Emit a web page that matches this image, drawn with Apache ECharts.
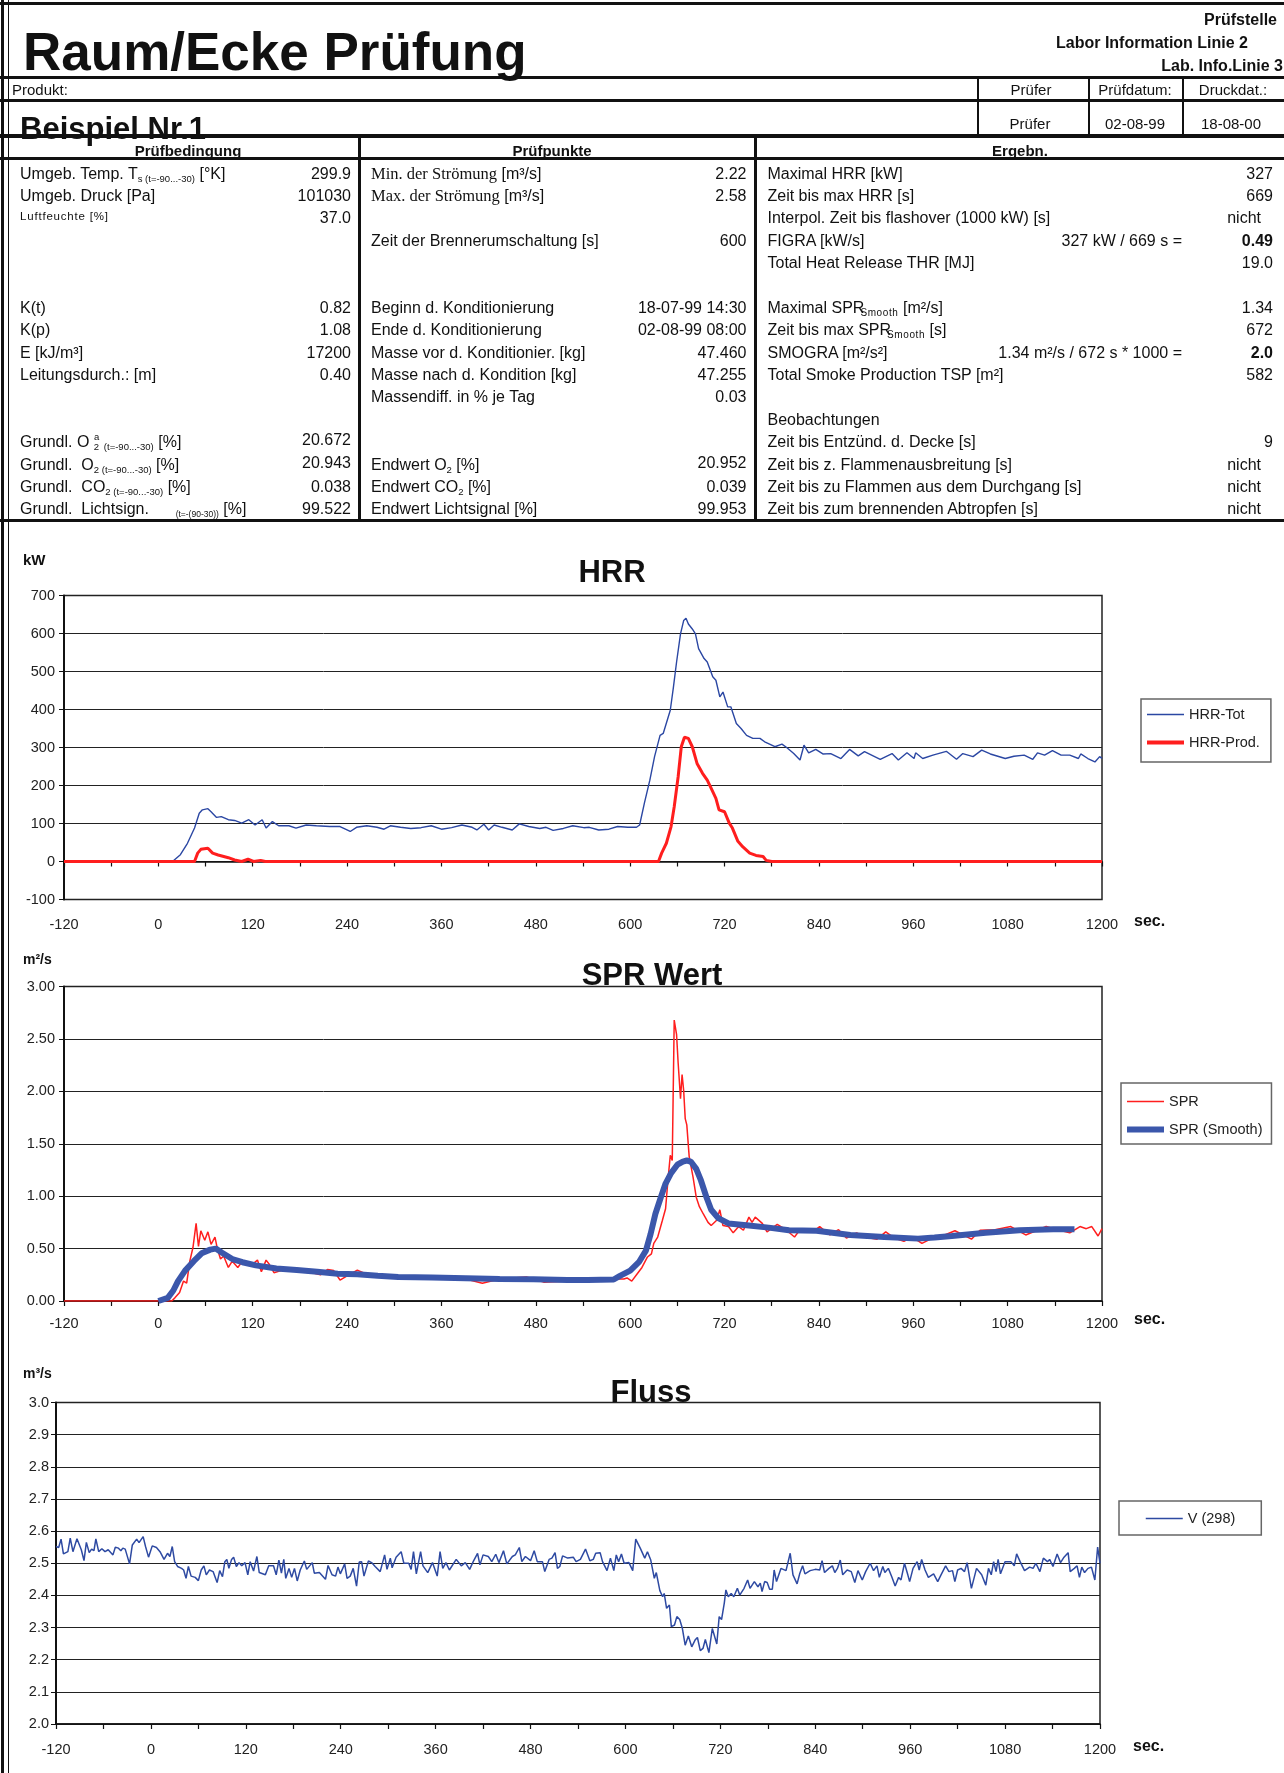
<!DOCTYPE html>
<html><head><meta charset="utf-8">
<script src="https://cdn.jsdelivr.net/npm/echarts@6/dist/echarts.min.js"></script>
<style>
html,body{margin:0;padding:0;background:#fff;}
#page{position:relative;width:1284px;height:1773px;overflow:hidden;font-family:"Liberation Sans",Arial,Helvetica,sans-serif;color:#111;}
#chart{position:absolute;left:0;top:0;width:1284px;height:1773px;}
#hdr{position:absolute;left:0;top:0;width:1284px;height:1773px;pointer-events:none;}
.t{position:absolute;white-space:nowrap;}
.ln{position:absolute;background:#111;}
sub{font-size:9.5px;vertical-align:-3px;line-height:0;}
sup{font-size:9.5px;vertical-align:7px;line-height:0;}
sub.sm{font-size:10px;letter-spacing:0.6px;margin-left:-4px;}
.tm{font-family:"Liberation Serif","Times New Roman",serif;font-size:16.5px;}
</style></head>
<body><div id="page"><div id="chart"></div><div id="hdr"></div></div>
<script>
// ---------------- DATA ----------------
const xTickLabels = [-120, 0, 120, 240, 360, 480, 600, 720, 840, 960, 1080, 1200];

const hrrTotT = [-120,18,28,37,46,52,56,63,67,74,80,89,97,106,115,123,132,137,145,153,166,175,188,201,218,231,244,252,265,278,287,295,308,321,334,347,360,373,386,399,405,414,420,427,437,450,459,471,485,493,502,515,527,541,548,560,573,584,597,608,612,618,625,631,638,642,651,655,659,664,668,671,674,679,683,687,694,698,705,709,714,718,724,728,735,741,748,756,765,771,778,784,793,799,808,816,821,827,836,845,855,868,879,890,898,907,918,933,941,952,961,963,972,985,1002,1015,1023,1036,1047,1058,1077,1088,1101,1112,1118,1127,1137,1148,1159,1170,1173,1182,1191,1197,1200];
const hrrTotV = [0,0,18,48,88,127,136,139,131,116,118,110,108,101,110,96,110,88,105,94,94,88,96,94,92,92,79,90,94,90,85,94,90,87,89,94,85,89,96,90,83,98,83,96,90,83,99,92,87,90,82,87,94,89,90,83,85,92,90,90,96,153,214,276,332,337,398,459,525,599,634,640,625,612,599,560,534,525,486,477,433,446,407,407,363,350,332,324,324,315,308,302,309,300,284,267,306,286,295,283,284,271,295,278,289,280,269,284,267,286,271,286,271,280,290,269,284,276,293,283,271,277,280,269,286,280,292,280,280,271,283,271,262,276,271];

const hrrProdT = [-120,46,50,54,63,69,76,89,97,106,114,121,130,136,636,640,646,652,656,661,665,669,674,679,685,692,698,702,709,713,720,726,730,737,743,752,760,769,773,780,1200];
const hrrProdV = [0,0,22,32,35,22,17,10,4,0,6,0,3,0,0,22,48,92,144,223,302,327,324,302,258,232,214,197,166,136,131,101,88,53,39,22,16,13,3,0,0];

const sprT = [-120,17,21,27,32,36,40,44,48,51,54,59,63,67,72,75,79,83,89,94,101,107,118,126,131,137,141,147,156,172,184,206,215,223,231,240,253,270,288,305,326,348,369,391,412,434,468,490,520,546,570,592,596,602,609,615,622,627,630,635,641,645,648,651,653.5,656,659,661,664,666,668,670,672,675,680,684,688,693,699,703,710,714,718,725,731,738,744,751,755,759,768,774,787,798,809,817,832,841,854,865,875,888,901,914,925,936,948,959,971,987,1000,1013,1034,1045,1064,1084,1103,1129,1146,1159,1172,1180,1187,1195,1200];
const sprV = [0,0,0.03,0.08,0.19,0.17,0.38,0.51,0.74,0.52,0.67,0.58,0.66,0.54,0.61,0.50,0.40,0.43,0.32,0.38,0.32,0.38,0.34,0.39,0.28,0.39,0.35,0.27,0.29,0.30,0.29,0.25,0.30,0.29,0.20,0.24,0.295,0.24,0.22,0.225,0.22,0.24,0.21,0.21,0.17,0.21,0.23,0.18,0.19,0.19,0.21,0.21,0.22,0.19,0.26,0.32,0.42,0.45,0.55,0.61,0.77,0.88,1.15,1.39,1.34,2.68,2.54,2.27,1.93,2.16,2.01,1.74,1.68,1.38,1.18,0.99,0.90,0.83,0.75,0.72,0.77,0.87,0.72,0.71,0.65,0.71,0.675,0.80,0.75,0.80,0.74,0.66,0.73,0.68,0.61,0.69,0.66,0.71,0.63,0.68,0.60,0.65,0.605,0.59,0.66,0.60,0.57,0.61,0.55,0.61,0.63,0.67,0.59,0.675,0.68,0.71,0.63,0.71,0.675,0.65,0.71,0.69,0.71,0.62,0.69];

const sprSmoothT = [0,12,19,25,34,45,55,66,73,81,94,107,124,150,176,202,228,253,279,305,348,391,434,477,520,546,579,587,600,611,620,626,632,639,645,652,660,667,672,677,684,690,697,703,712,725,751,776,802,837,880,923,966,987,1009,1052,1095,1138,1165];
const sprSmoothV = [0,0.03,0.10,0.19,0.29,0.38,0.455,0.49,0.50,0.46,0.40,0.37,0.34,0.31,0.295,0.28,0.26,0.256,0.24,0.23,0.224,0.218,0.21,0.208,0.20,0.2,0.205,0.24,0.29,0.37,0.48,0.64,0.83,0.99,1.12,1.22,1.30,1.33,1.34,1.33,1.26,1.15,0.99,0.87,0.79,0.74,0.72,0.70,0.675,0.67,0.63,0.61,0.595,0.605,0.62,0.65,0.675,0.685,0.685];

const flussPts = [[-120,2.552],[-116.6,2.549],[-113.6,2.575],[-110.6,2.529],[-105,2.536],[-102,2.578],[-98.6,2.536],[-93.5,2.576],[-88,2.542],[-84.6,2.508],[-81.6,2.565],[-78,2.533],[-75,2.544],[-72,2.539],[-69.6,2.576],[-66,2.536],[-62,2.545],[-58,2.536],[-54,2.542],[-48,2.526],[-45,2.55],[-41,2.547],[-38,2.539],[-35.5,2.547],[-32.5,2.544],[-27,2.498],[-23.5,2.557],[-18,2.575],[-15,2.564],[-9.8,2.583],[-6.8,2.552],[-3,2.519],[1.7,2.554],[7,2.549],[11.5,2.536],[16.6,2.512],[21,2.531],[24,2.521],[27,2.552],[30,2.505],[33.7,2.49],[38.8,2.484],[41.4,2.479],[44.4,2.453],[47.4,2.49],[50.8,2.46],[56,2.456],[60,2.446],[63.6,2.479],[67,2.492],[70,2.464],[74,2.479],[78.6,2.474],[83.7,2.44],[87,2.477],[90.5,2.458],[93.5,2.505],[96,2.512],[98.6,2.484],[102,2.512],[104.6,2.519],[108,2.49],[111.4,2.502],[114.8,2.492],[119,2.502],[122.5,2.464],[125.5,2.505],[129.8,2.476],[134,2.521],[137,2.471],[144.7,2.464],[149,2.492],[155,2.492],[158.4,2.464],[161.8,2.51],[165,2.469],[168,2.512],[170.5,2.453],[174.6,2.484],[178,2.456],[181.5,2.484],[185,2.445],[188.8,2.479],[194,2.507],[197,2.481],[204,2.502],[206.6,2.469],[213,2.471],[220.7,2.45],[224,2.493],[229,2.464],[233.5,2.46],[236.5,2.488],[239.5,2.467],[245,2.498],[248,2.453],[252,2.46],[255.8,2.484],[260,2.429],[263.4,2.504],[266.4,2.505],[269.4,2.46],[275,2.507],[279,2.502],[283.5,2.49],[289.9,2.474],[295.5,2.526],[298.5,2.481],[302.7,2.516],[305,2.486],[310,2.519],[316.4,2.536],[319.8,2.5],[326,2.5],[329,2.481],[332,2.536],[335.6,2.467],[341,2.536],[344,2.492],[350,2.471],[356,2.502],[362,2.46],[365.6,2.536],[369,2.484],[373,2.502],[377.4,2.479],[386,2.512],[392.4,2.492],[397.5,2.502],[403,2.481],[407.5,2.505],[413,2.531],[416,2.495],[420,2.526],[426.6,2.521],[431,2.505],[436,2.528],[440,2.502],[445.8,2.539],[450,2.498],[457,2.521],[460.7,2.526],[465.8,2.549],[469,2.505],[473.5,2.521],[480,2.508],[484.6,2.539],[488.5,2.505],[495,2.505],[498,2.474],[503.5,2.512],[507,2.516],[511,2.533],[514,2.484],[517,2.49],[520.5,2.523],[527,2.516],[534,2.519],[537.6,2.505],[543,2.512],[549.5,2.544],[555,2.508],[559.3,2.512],[562.4,2.531],[568,2.533],[571,2.505],[576.7,2.477],[581,2.516],[585.3,2.477],[588.4,2.526],[591.4,2.505],[594.9,2.529],[598.3,2.5],[604.4,2.502],[609.2,2.477],[613,2.575],[618.7,2.547],[624.4,2.516],[627.8,2.536],[632,2.51],[636.5,2.453],[639,2.471],[643.5,2.415],[647,2.396],[649,2.406],[652,2.36],[655.6,2.37],[658,2.303],[662,2.308],[665,2.334],[668.6,2.325],[672,2.297],[675.5,2.245],[679.5,2.274],[683.8,2.24],[688,2.261],[691,2.269],[694.6,2.228],[698,2.235],[701,2.263],[705.5,2.222],[709.8,2.297],[712,2.292],[715.5,2.249],[718.5,2.334],[721.5,2.325],[725,2.377],[727,2.417],[730,2.396],[733.7,2.406],[737,2.396],[741.5,2.422],[744.5,2.401],[750,2.422],[754.5,2.448],[757.5,2.422],[763,2.443],[767.5,2.427],[770.5,2.438],[772.7,2.412],[776,2.443],[779.2,2.44],[782.3,2.419],[785.7,2.419],[788,2.479],[791,2.443],[796.6,2.484],[803,2.477],[808.3,2.531],[811.8,2.464],[817,2.436],[820.4,2.468],[824,2.492],[827,2.467],[833.5,2.477],[840,2.481],[845.6,2.479],[848.6,2.508],[851.7,2.471],[857.3,2.484],[861.6,2.492],[864.7,2.471],[868,2.484],[871.6,2.51],[874.7,2.464],[880.3,2.479],[885.5,2.474],[890,2.44],[894,2.477],[899.4,2.448],[903.7,2.474],[909.4,2.5],[913.7,2.477],[918,2.492],[921,2.456],[925.4,2.49],[928,2.471],[932.4,2.484],[936.7,2.458],[941,2.429],[945.4,2.456],[948.4,2.448],[952.8,2.5],[957,2.464],[959.3,2.443],[963.6,2.484],[968.8,2.505],[971.4,2.479],[974.5,2.512],[978.8,2.479],[983,2.456],[989.6,2.467],[994.8,2.443],[999,2.464],[1004.8,2.492],[1009,2.474],[1013.5,2.477],[1016.5,2.443],[1020,2.479],[1024.3,2.484],[1028.7,2.474],[1032,2.502],[1037.4,2.422],[1043.9,2.484],[1050.4,2.464],[1055.6,2.432],[1059,2.484],[1062.5,2.464],[1065.5,2.505],[1068.6,2.474],[1071.2,2.512],[1074.2,2.467],[1079.9,2.505],[1087.2,2.505],[1091.6,2.492],[1094.6,2.529],[1099,2.505],[1104.6,2.477],[1111,2.488],[1115.4,2.484],[1118.9,2.5],[1124,2.474],[1128.4,2.516],[1133.6,2.505],[1136.3,2.512],[1140.6,2.49],[1145.8,2.529],[1150.1,2.502],[1154.5,2.519],[1159.7,2.533],[1162.3,2.474],[1167.5,2.484],[1171,2.492],[1174,2.456],[1177,2.488],[1180.5,2.471],[1184.8,2.484],[1189.2,2.488],[1193.5,2.448],[1197,2.55],[1200,2.5]];

// ---------------- HEADER TABLE (HTML text) ----------------
const hdr = document.getElementById('hdr');
function T(html, x, base, align, fs, extra){
  fs = fs || 16;
  const lh = Math.round(fs*1.2);
  const d = document.createElement('div');
  d.className = 't';
  d.innerHTML = html;
  d.style.fontSize = fs + 'px';
  d.style.lineHeight = lh + 'px';
  d.style.height = lh + 'px';
  d.style.top = (base - (lh - 1.117*fs)/2 - 0.905*fs) + 'px';
  if (align === 'r') d.style.right = (1284 - x) + 'px';
  else if (align === 'c') { d.style.left = (x - 200) + 'px'; d.style.width = '400px'; d.style.textAlign = 'center'; }
  else d.style.left = x + 'px';
  if (extra) d.style.cssText += ';' + extra;
  hdr.appendChild(d);
}
function L(x, y, w, h){ const d = document.createElement('div'); d.className = 'ln'; d.style.cssText = `left:${x}px;top:${y}px;width:${w}px;height:${h}px`; hdr.appendChild(d); }
const B = 'font-weight:bold';
T('Raum/Ecke Prüfung', 23, 70, 'l', 53, B);
T('Prüfstelle', 1277, 25.5, 'r', 16, B);
T('Labor Information Linie 2', 1248, 48.5, 'r', 16, B);
T('Lab. Info.Linie 3', 1283, 71, 'r', 16, B);
T('Produkt:', 12, 95, 'l', 15);
T('Prüfer', 1031, 95, 'c', 15); T('Prüfdatum:', 1135, 95, 'c', 15); T('Druckdat.:', 1233, 95, 'c', 15);
T('Beispiel Nr.1', 20, 139, 'l', 31, B);
T('Prüfer', 1030, 129.5, 'c', 15); T('02-08-99', 1135, 129.5, 'c', 15); T('18-08-00', 1231, 129.5, 'c', 15);
T('Prüfbedingung', 188, 156.5, 'c', 15, B);
T('Prüfpunkte', 552, 156.5, 'c', 15, B);
T('Ergebn.', 1020, 156.5, 'c', 15, B);

const rb = i => 173 + 22.38*i + 5.7;
const C1L = 20, C1R = 351, C2L = 371, C2R = 746.5, C3L = 767.5, C3M = 1182, C3R = 1273, NI = 1261;
const c1 = [
  [0, 'Umgeb. Temp. T<sub>s (t=-90...-30)</sub> [°K]', '299.9'],
  [1, 'Umgeb. Druck [Pa]', '101030'],
  [6, 'K(t)', '0.82'], [7, 'K(p)', '1.08'], [8, 'E [kJ/m³]', '17200'], [9, 'Leitungsdurch.: [m]', '0.40'],
  [12, 'Grundl. O&nbsp;<sub>2</sub><sup style="margin-left:-5px">a</sup>&nbsp;<sub>(t=-90...-30)</sub> [%]', '20.672'],
  [13, 'Grundl.&nbsp; O<sub>2 (t=-90...-30)</sub> [%]', '20.943'],
  [14, 'Grundl.&nbsp; CO<sub>2 (t=-90...-30)</sub> [%]', '0.038'],
  [15, 'Grundl.&nbsp; Lichtsign.&nbsp;&nbsp;&nbsp;&nbsp;&nbsp;&nbsp;<sub style="font-size:8.5px">(t=-(90-30))</sub> [%]', '99.522']
];
c1.forEach(r => { T(r[1], C1L, rb(r[0])); T(r[2], C1R, rb(r[0]) - (r[0] >= 12 && r[0] <= 13 ? 2 : 0), 'r'); });
T('Luftfeuchte [%]', C1L, rb(2) - 3, 'l', 11.5, 'letter-spacing:0.8px'); T('37.0', C1R, rb(2), 'r');
const c2 = [
  [0, '<span class="tm">Min. der Strömung</span> [m³/s]', '2.22'],
  [1, '<span class="tm">Max. der Strömung</span> [m³/s]', '2.58'],
  [3, 'Zeit der Brennerumschaltung [s]', '600'],
  [6, 'Beginn d. Konditionierung', '18-07-99 14:30'],
  [7, 'Ende d. Konditionierung', '02-08-99 08:00'],
  [8, 'Masse vor d. Konditionier. [kg]', '47.460'],
  [9, 'Masse nach d. Kondition [kg]', '47.255'],
  [10, 'Massendiff. in % je Tag', '0.03'],
  [13, 'Endwert O<sub>2</sub> [%]', '20.952'],
  [14, 'Endwert CO<sub>2</sub> [%]', '0.039'],
  [15, 'Endwert Lichtsignal [%]', '99.953']
];
c2.forEach(r => { T(r[1], C2L, rb(r[0])); T(r[2], C2R, rb(r[0]) - (r[0] === 13 ? 2 : 0), 'r'); });
const c3 = [
  [0, 'Maximal HRR [kW]', '327', C3R],
  [1, 'Zeit bis max HRR [s]', '669', C3R],
  [2, 'Interpol. Zeit bis flashover (1000 kW) [s]', 'nicht', NI],
  [3, 'FIGRA [kW/s]', '<b>0.49</b>', C3R],
  [4, 'Total Heat Release THR [MJ]', '19.0', C3R],
  [6, 'Maximal SPR<sub class="sm">Smooth</sub> [m²/s]', '1.34', C3R],
  [7, 'Zeit bis max SPR<sub class="sm">Smooth</sub> [s]', '672', C3R],
  [8, 'SMOGRA [m²/s²]', '<b>2.0</b>', C3R],
  [9, 'Total Smoke Production TSP [m²]', '582', C3R],
  [11, 'Beobachtungen', '', C3R],
  [12, 'Zeit bis Entzünd. d. Decke [s]', '9', C3R],
  [13, 'Zeit bis z. Flammenausbreitung [s]', 'nicht', NI],
  [14, 'Zeit bis zu Flammen aus dem Durchgang [s]', 'nicht', NI],
  [15, 'Zeit bis zum brennenden Abtropfen [s]', 'nicht', NI]
];
c3.forEach(r => { T(r[1], C3L, rb(r[0])); if (r[2]) T(r[2], r[3], rb(r[0]), 'r'); });
T('327 kW / 669 s =', C3M, rb(3), 'r');
T('1.34 m²/s / 672 s * 1000 =', C3M, rb(8), 'r');

// lines
L(0, 2, 1284, 3);
L(0, 76, 1284, 3);
L(0, 99, 1284, 2.5);
L(977, 77, 1.5, 58); L(1088, 77, 1.5, 58); L(1182, 77, 1.5, 58);
L(0, 134, 1284, 4);
L(0, 157, 1284, 3);
L(358, 136, 3, 385); L(753.5, 136, 3, 385);
L(0, 518.5, 1284, 3);
L(1, 0, 2.5, 1773); L(7.5, 0, 1.5, 1773);

// ---------------- CHARTS ----------------
const FF = '"Liberation Sans", Arial, sans-serif';
const zip = (t, v) => t.map((x, i) => [x, v[i]]);
const xLab = v => (xTickLabels.indexOf(v) >= 0 ? String(v) : '');
const lab = {fontSize: 14.5, color: '#222', fontFamily: FF};
const dark = {color: '#111', width: 1.5};
function gridOf(l, t, w, h){ return {left: l, top: t, width: w, height: h, show: true, borderColor: '#222', borderWidth: 1.5, backgroundColor: '#fff', containLabel: false, outerBoundsMode: 'none'}; }
function xAx(g, extra){ return Object.assign({gridIndex: g, type: 'value', min: -120, max: 1200, interval: 60, position: 'bottom', splitLine: {show: false}}, extra); }
function yAx(g, mn, mx, iv, fmt, margin){
  return {gridIndex: g, type: 'value', min: mn, max: mx, interval: iv,
    axisLine: {show: true, onZero: false, lineStyle: {color: '#111', width: 2}},
    axisTick: {show: true, length: 5, lineStyle: {color: '#111', width: 1}},
    axisLabel: Object.assign({margin: margin, formatter: fmt}, lab),
    splitLine: {show: true, lineStyle: {color: '#222', width: 1}}};
}
function leg(names, left, top, pad){
  return {data: names, orient: 'vertical', left: left, top: top, itemWidth: 37, itemHeight: 14, itemGap: 13,
    padding: pad, backgroundColor: '#fff', borderColor: '#666', borderWidth: 1.5, selectedMode: false,
    itemStyle: {opacity: 0, borderWidth: 0},
    textStyle: {fontSize: 14.5, color: '#222', fontFamily: FF}};
}
function gtext(txt, x, y, fs, align){
  return {type: 'text', x: x, y: y, z: 100,
    style: {text: txt, font: 'bold ' + fs + 'px ' + FF, fill: '#111', align: align || 'left', verticalAlign: 'middle', textAlign: align || 'left', textVerticalAlign: 'middle'}};
}

const chart = echarts.init(document.getElementById('chart'), null, {renderer: 'canvas', width: 1284, height: 1773});
chart.setOption({
  animation: false,
  textStyle: {fontFamily: FF},
  grid: [gridOf(64, 595.5, 1038, 304), gridOf(64, 986.5, 1038, 314.5), gridOf(56, 1402.5, 1044, 321.5)],
  xAxis: [
    xAx(0, {axisLine: {show: false, onZero: false}, axisTick: {show: false}, axisLabel: Object.assign({margin: 18, formatter: xLab}, lab)}),
    xAx(0, {axisLine: {show: true, onZero: true, lineStyle: dark}, axisTick: {show: true, length: 5, lineStyle: {color: '#111', width: 1.2}}, axisLabel: {show: false}}),
    xAx(1, {axisLine: {show: true, onZero: false, lineStyle: dark}, axisTick: {show: true, length: 5, lineStyle: {color: '#111', width: 1.2}}, axisLabel: Object.assign({margin: 15, formatter: xLab}, lab)}),
    xAx(2, {axisLine: {show: true, onZero: false, lineStyle: dark}, axisTick: {show: true, length: 5, lineStyle: {color: '#111', width: 1.2}}, axisLabel: Object.assign({margin: 18, formatter: xLab}, lab)})
  ],
  yAxis: [
    yAx(0, -100, 700, 100, v => String(v), 9),
    yAx(1, 0, 3, 0.5, v => v.toFixed(2), 9),
    yAx(2, 2, 3, 0.1, v => v.toFixed(1), 7)
  ],
  legend: [
    leg([{name: 'HRR-Tot', lineStyle: {width: 1.5}}, {name: 'HRR-Prod.', lineStyle: {width: 4}}], 1141, 699, [8, 11, 12, 4]),
    leg([{name: 'SPR', lineStyle: {width: 1.5}}, {name: 'SPR (Smooth)', lineStyle: {width: 6}}], 1121, 1083, [11, 9, 7, 3]),
    leg([{name: 'V (298)', lineStyle: {width: 1.5}}], 1119, 1501, [10, 26, 9, 26])
  ],
  graphic: [
    gtext('kW', 23, 561, 15), gtext('HRR', 612, 573, 31, 'center'), gtext('sec.', 1134, 922, 16),
    gtext('m²/s', 23, 960, 14), gtext('SPR Wert', 652, 976, 31, 'center'), gtext('sec.', 1134, 1320, 16),
    gtext('m³/s', 23, 1374.5, 14), gtext('Fluss', 651, 1393, 31, 'center'), gtext('sec.', 1133, 1747, 16)
  ],
  series: [
    {name: 'HRR-Tot', type: 'line', xAxisIndex: 0, yAxisIndex: 0, data: zip(hrrTotT, hrrTotV), symbol: 'none', lineStyle: {color: '#2B47A3', width: 1.4}, itemStyle: {color: '#2B47A3'}},
    {name: 'HRR-Prod.', type: 'line', xAxisIndex: 0, yAxisIndex: 0, data: zip(hrrProdT, hrrProdV), symbol: 'none', lineStyle: {color: '#FF1E1E', width: 3}, itemStyle: {color: '#FF1E1E'}},
    {name: 'SPR', type: 'line', xAxisIndex: 2, yAxisIndex: 1, data: zip(sprT, sprV), symbol: 'none', lineStyle: {color: '#FF1E1E', width: 1.5}, itemStyle: {color: '#FF1E1E'}},
    {name: 'SPR (Smooth)', type: 'line', xAxisIndex: 2, yAxisIndex: 1, data: zip(sprSmoothT, sprSmoothV), symbol: 'none', lineStyle: {color: '#3B57AB', width: 6}, itemStyle: {color: '#3B57AB'}},
    {name: 'V (298)', type: 'line', xAxisIndex: 3, yAxisIndex: 2, data: flussPts, symbol: 'none', lineStyle: {color: '#2E4AA2', width: 1.5}, itemStyle: {color: '#2E4AA2'}}
  ]
});
</script></body></html>
